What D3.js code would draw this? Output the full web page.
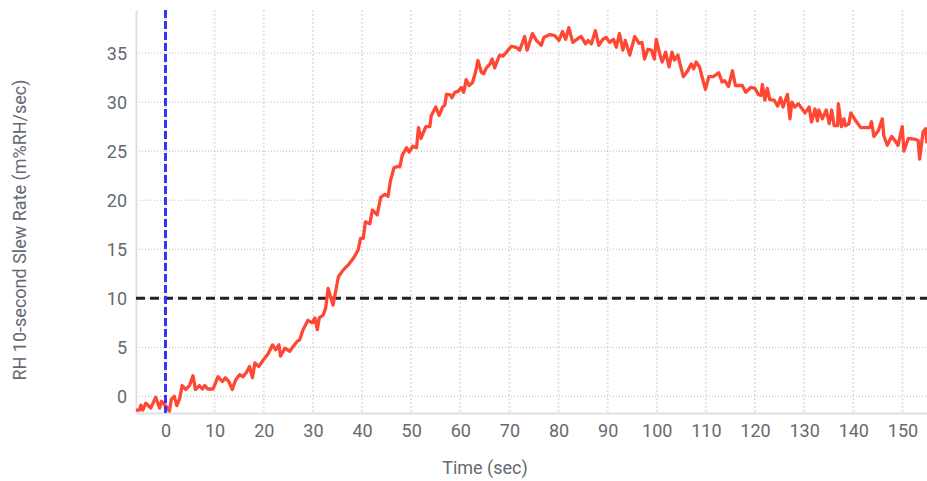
<!DOCTYPE html>
<meta charset="utf-8">
<script src="https://d3js.org/d3.v7.min.js"></script>
<style>
  body { margin: 0; background: #fff; }
  text { font-family: Roboto, sans-serif; }
</style>
<div id="chart"></div>
<script>
  // time (sec) and slew rate (m%RH/sec)
  var times = [-6, -5.3, -5, -4.6, -4, -3, -2, -1.2, -0.8, 0.1, 0.8, 1.2, 1.8, 2.3, 2.9, 3.4, 4.1, 4.9, 5.6, 6.1,
    6.9, 7.5, 8, 8.6, 9.7, 10.7, 11.6, 12.2, 12.9, 13.6, 14.3, 15.1, 15.8, 16.5, 17.1, 17.7, 18.2, 19, 19.9, 20.9,
    21.8, 22.4, 23.1, 23.4, 24.3, 25.3, 26, 26.8, 27.3, 28, 29, 29.9, 30.4, 30.9, 31.3, 32.1, 32.6, 33.1, 34.1, 35.2,
    36.2, 37.2, 38.2, 39.2, 39.7, 40.25, 40.7, 41.6, 42.1, 43.1, 43.8, 44.65, 45.3, 45.8, 46.5, 47.2, 47.7, 48.2, 49.06, 49.6,
    50.3, 51.1, 51.5, 52, 53, 53.8, 54.1, 55, 55.7, 56.4, 56.85, 57.2, 58, 58.3, 58.9, 59.56, 60.2, 60.7, 61.2, 61.8,
    62.5, 63.1, 63.6, 64.3, 64.8, 65.3, 66, 66.5, 67, 68, 68.7, 69.4, 70.4, 71.4, 72.1, 73.1, 73.6, 74.7, 75.5, 76.5,
    77, 78.2, 79.2, 80.1, 80.8, 81.45, 82.1, 82.9, 84, 84.6, 85.5, 86, 86.7, 87.5, 88.2, 89, 89.7, 90.4, 91.2, 91.75,
    92.4, 93.1, 93.6, 94.5, 95.5, 96.4, 97, 97.5, 98.2, 98.9, 99.5, 99.9, 100.6, 101.1, 101.8, 102.5, 103.1, 103.6, 104.3, 104.8,
    105.4, 106.3, 107, 107.5, 108, 108.7, 109.2, 109.9, 110.6, 111.5, 112.6, 113.3, 113.8, 114.6, 115.4, 116, 117.4, 118.1, 119.1, 120,
    120.7, 121.2, 121.5, 122, 122.5, 123, 123.9, 124.6, 125.2, 125.7, 126.6, 127.1, 127.5, 128.1, 128.8, 130.2, 131, 131.5, 132.2, 132.7,
    133, 133.7, 134.5, 135.1, 135.6, 136.1, 136.8, 136.95, 137.6, 138.1, 138.4, 139.1, 139.5, 140.5, 141.5, 143.3, 143.7, 144.2, 145.1, 145.9,
    146.2, 146.9, 147.8, 148.6, 149.1, 149.96, 150.3, 151.2, 152.7, 153.2, 153.5, 154.2, 154.7, 155];
  var slewRate = [-1.4, -1.4, -0.9, -1.4, -0.7, -1.2, -0.1, -1.2, -0.5, -1.0, -1.5, -0.3, 0, -0.95, -0.2, 1.1, 0.7, 1.1, 2.1, 0.7,
    1.1, 0.75, 1.1, 0.75, 0.75, 2.0, 1.5, 1.9, 1.5, 0.7, 1.7, 2.2, 2.0, 2.45, 3.05, 1.9, 3.4, 3.05, 3.7, 4.35,
    5.25, 4.75, 5.25, 4.1, 4.9, 4.6, 5.1, 5.6, 5.75, 6.8, 7.75, 7.5, 8.0, 6.8, 8.0, 8.3, 9.0, 11.0, 9.3, 12.2,
    12.9, 13.4, 14.05, 14.9, 16.1, 16.1, 17.8, 17.6, 19.0, 18.5, 20.3, 20.6, 20.4, 22.0, 23.3, 23.45, 23.4, 24.6, 25.35, 24.9,
    25.5, 25.35, 27.4, 26.3, 27.5, 27.5, 28.65, 29.5, 28.65, 29.5, 29.7, 30.8, 30.75, 30.45, 31.0, 31.1, 31.5, 31.0, 32.3, 31.7,
    32.0, 33.05, 34.25, 33.05, 32.9, 33.5, 33.85, 34.4, 33.5, 34.8, 34.7, 35.1, 35.7, 35.6, 35.3, 36.7, 35.3, 37.0, 36.3, 35.8,
    36.6, 36.9, 36.8, 36.3, 37.2, 36.4, 37.6, 36.1, 36.5, 36.7, 35.95, 36.3, 35.95, 37.3, 35.8, 36.4, 36.6, 36.1, 36.4, 35.6,
    37.0, 35.3, 36.3, 34.8, 36.7, 36.0, 36.1, 34.4, 35.4, 35.3, 34.4, 36.4, 34.9, 34.1, 35.1, 33.6, 35.1, 34.3, 34.8, 33.75,
    32.6, 33.2, 33.9, 33.4, 34.1, 33.6, 32.6, 31.3, 32.6, 32.6, 33.0, 32.05, 32.2, 31.6, 33.2, 31.7, 31.7, 31.0, 31.5, 31.4,
    30.76, 30.7, 31.8, 30.2, 31.4, 30.25, 30.2, 29.6, 30.45, 29.5, 30.8, 28.3, 30.0, 29.5, 29.85, 28.9, 29.5, 27.98, 29.3, 28.1,
    29.2, 28.3, 29.2, 27.8, 29.2, 27.6, 27.6, 29.85, 27.5, 28.3, 27.6, 27.8, 28.9, 28.1, 27.4, 27.4, 28.0, 26.5, 27.1, 28.3,
    26.6, 25.6, 26.5, 26.0, 25.6, 27.5, 25.0, 26.3, 26.2, 26.1, 24.2, 26.96, 27.3, 25.8];

  var xTicks = [0, 10, 20, 30, 40, 50, 60, 70, 80, 90, 100, 110, 120, 130, 140, 150];
  var yTicks = [0, 5, 10, 15, 20, 25, 30, 35];
  var threshold = 10;
  var triggerTime = 0;

  var data = times.map(function(t, i) { return { t: t, v: slewRate[i] }; });

  var W = 927, H = 481;
  var margin = { top: 10, right: 0, bottom: 68, left: 136 };
  var width = W - margin.left - margin.right,
      height = H - margin.top - margin.bottom;

  var svg = d3.select("#chart").append("svg")
      .attr("width", W)
      .attr("height", H);
  var g = svg.append("g")
      .attr("transform", "translate(" + margin.left + "," + margin.top + ")");

  var x = d3.scaleLinear().domain([-6, 155]).range([0, width]);
  var y = d3.scaleLinear().domain([-1.7, 39.4]).range([height, 0]);

  // grid
  g.selectAll(".vgrid").data(xTicks).enter().append("line")
      .attr("x1", function(d) { return x(d); })
      .attr("x2", function(d) { return x(d); })
      .attr("y1", 0).attr("y2", height)
      .style("stroke", "#e4e4e4")
      .style("stroke-width", 2)
      .style("stroke-dasharray", "2,2");
  g.selectAll(".hgrid").data(yTicks).enter().append("line")
      .attr("x1", 0).attr("x2", width)
      .attr("y1", function(d) { return y(d); })
      .attr("y2", function(d) { return y(d); })
      .style("stroke", "#bdbdbd")
      .style("stroke-width", 1)
      .style("stroke-dasharray", "1,2");

  // axes
  var xAxis = g.append("g")
      .attr("transform", "translate(0," + height + ")")
      .call(d3.axisBottom(x).tickValues(xTicks).tickSize(0).tickPadding(11));
  var yAxis = g.append("g")
      .call(d3.axisLeft(y).tickValues(yTicks).tickSize(0).tickPadding(9));
  [xAxis, yAxis].forEach(function(a) {
    a.select(".domain").style("stroke", "#dfdfe6").style("stroke-width", 2);
    a.selectAll("text").style("font-size", "18px").style("fill", "#666a70")
      .style("font-family", "Roboto, sans-serif");
  });
  yAxis.selectAll("text").attr("dy", "0.35em");

  // reference lines
  g.append("line")
      .attr("x1", 0).attr("x2", width)
      .attr("y1", y(threshold)).attr("y2", y(threshold))
      .style("stroke", "#222")
      .style("stroke-width", 3)
      .style("stroke-dasharray", "9,5");

  // data line
  var line = d3.line()
      .x(function(d) { return x(d.t); })
      .y(function(d) { return y(d.v); });
  g.append("path")
      .datum(data)
      .attr("d", line)
      .style("fill", "none")
      .style("stroke", "#ff4733")
      .style("stroke-width", 3.3)
      .style("stroke-linejoin", "round");

  g.append("line")
      .attr("x1", x(triggerTime)).attr("x2", x(triggerTime))
      .attr("y1", 0).attr("y2", height)
      .style("stroke", "#3333ff")
      .style("stroke-width", 3)
      .style("stroke-dasharray", "8,3");

  // axis titles
  svg.append("text")
      .attr("x", 485)
      .attr("y", 474)
      .attr("text-anchor", "middle")
      .style("font-size", "18px")
      .style("fill", "#666a70")
      .text("Time (sec)");
  svg.append("text")
      .attr("transform", "translate(26,230) rotate(-90)")
      .attr("text-anchor", "middle")
      .style("font-size", "18px")
      .style("fill", "#666a70")
      .text("RH 10-second Slew Rate (m%RH/sec)");
</script>
